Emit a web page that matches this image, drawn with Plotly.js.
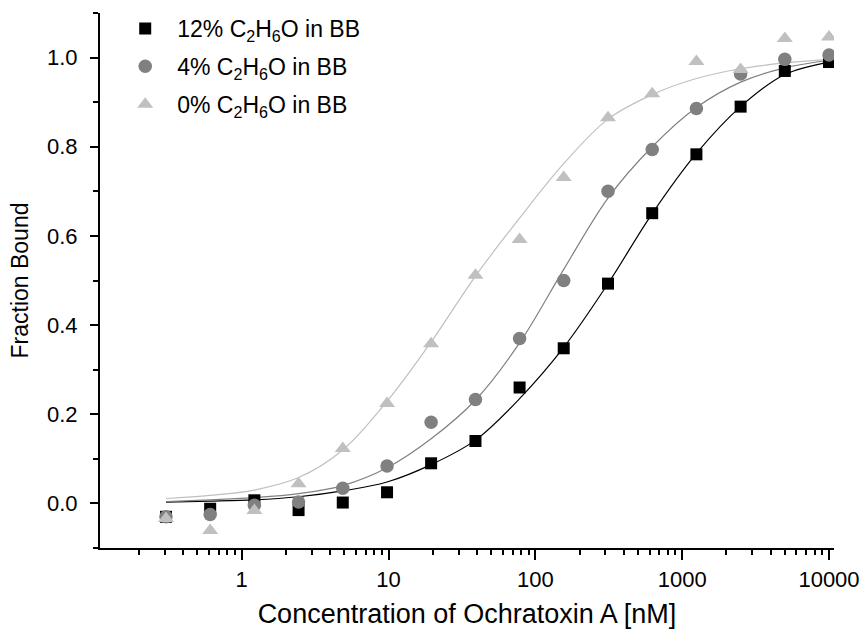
<!DOCTYPE html>
<html>
<head>
<meta charset="utf-8">
<script src="https://cdn.plot.ly/plotly-3.0.1.min.js"></script>
<style>
  html, body { margin: 0; padding: 0; background: #fff; }
  #chart { width: 861px; height: 632px; }
</style>
</head>
<body>
<div id="chart"></div>
<script>
// Ochratoxin A concentrations (two-fold dilution series, nM)
const concentration = [0.305, 0.61, 1.22, 2.44, 4.88, 9.77, 19.5, 39.1, 78.1, 156, 312.5, 625, 1250, 2500, 5000, 10000];

// Measured fraction bound per buffer condition
const bound12 = [-0.03, -0.012, 0.007, -0.015, 0.002, 0.025, 0.09, 0.14, 0.26, 0.348, 0.493, 0.651, 0.783, 0.89, 0.97, 0.99];
const bound4  = [-0.03, -0.025, -0.004, 0.003, 0.034, 0.084, 0.182, 0.233, 0.37, 0.5, 0.7, 0.794, 0.886, 0.963, 0.996, 1.006];
const bound0  = [-0.034, -0.061, -0.016, 0.044, 0.123, 0.224, 0.358, 0.512, 0.592, 0.731, 0.865, 0.919, 0.991, 0.973, 1.043, 1.046];

// Fitted binding curves evaluated at the same concentrations
const fit12 = [0.003, 0.005, 0.008, 0.015, 0.028, 0.048, 0.087, 0.142, 0.235, 0.35, 0.493, 0.65, 0.785, 0.89, 0.962, 0.99];
const fit4  = [0.004, 0.008, 0.013, 0.022, 0.04, 0.08, 0.145, 0.232, 0.36, 0.525, 0.685, 0.80, 0.888, 0.945, 0.977, 0.994];
const fit0  = [0.011, 0.018, 0.03, 0.058, 0.12, 0.229, 0.362, 0.51, 0.64, 0.762, 0.862, 0.917, 0.953, 0.975, 0.988, 0.996];

const seriesNames = ['12% C<sub>2</sub>H<sub>6</sub>O in BB', '4% C<sub>2</sub>H<sub>6</sub>O in BB', '0% C<sub>2</sub>H<sub>6</sub>O in BB'];
const xTickVals = [1, 10, 100, 1000, 10000];
const xTickText = ['1', '10', '100', '1000', '10000'];

const FONT = 'Arial, "Liberation Sans", sans-serif';
const colors = ['#000000', '#808080', '#c0c0c0'];
const symbols = ['square', 'circle', 'triangle-up'];
const sizes = [12, 13.5, 14];

const measured = [bound12, bound4, bound0];
const fits = [fit12, fit4, fit0];

const traces = [];
fits.forEach((f, i) => {
  traces.push({
    x: concentration, y: f, type: 'scatter', mode: 'lines',
    line: { color: colors[i], width: 1.2, shape: 'spline', smoothing: 1 },
    showlegend: false, hoverinfo: 'skip'
  });
});
measured.forEach((m, i) => {
  traces.push({
    x: concentration, y: m, type: 'scatter', mode: 'markers',
    name: seriesNames[i], legendgroup: 'g' + i,
    marker: { symbol: symbols[i], size: sizes[i], color: colors[i], line: { width: 0 } }
  });
});

const layout = {
  width: 861, height: 632,
  margin: { l: 100, r: 27, t: 13, b: 84, pad: 0, autoexpand: false },
  paper_bgcolor: '#fff', plot_bgcolor: '#fff',
  font: { family: FONT, color: '#000', size: 16 },
  showlegend: true,
  legend: {
    x: 0.018, y: 0.989, xanchor: 'left', yanchor: 'top', yref: 'container',
    bgcolor: 'rgba(0,0,0,0)', borderwidth: 0,
    font: { family: FONT, size: 23, color: '#000' },
    itemwidth: 54, tracegroupgap: 5
  },
  xaxis: {
    type: 'log', range: [-0.965, 4.034],
    tickvals: xTickVals, ticktext: xTickText,
    ticks: 'outside', ticklen: 10, tickwidth: 2, tickcolor: '#000',
    ticklabelstandoff: 1,
    minor: { ticks: 'outside', ticklen: 5, tickwidth: 2, tickcolor: '#000', dtick: 'D1' },
    showline: true, linewidth: 2, linecolor: '#000',
    showgrid: false, zeroline: false, mirror: false,
    tickfont: { family: FONT, size: 22, color: '#000' },
    title: { text: 'Concentration of Ochratoxin A [nM]', font: { family: FONT, size: 27, color: '#000' }, standoff: 13 }
  },
  yaxis: {
    range: [-0.1, 1.1], dtick: 0.2, tick0: 0, tickformat: '.1f',
    ticks: 'outside', ticklen: 8, tickwidth: 2, tickcolor: '#000',
    ticklabelstandoff: 8,
    minor: { ticks: 'outside', ticklen: 5, tickwidth: 2, tickcolor: '#000', dtick: 0.1 },
    showline: true, linewidth: 2, linecolor: '#000',
    showgrid: false, zeroline: false, mirror: false,
    tickfont: { family: FONT, size: 22, color: '#000' },
    title: { text: 'Fraction Bound', font: { family: FONT, size: 23, color: '#000' }, standoff: 12 }
  }
};

Plotly.newPlot('chart', traces, layout, { displayModeBar: false, staticPlot: true });
</script>
</body>
</html>
